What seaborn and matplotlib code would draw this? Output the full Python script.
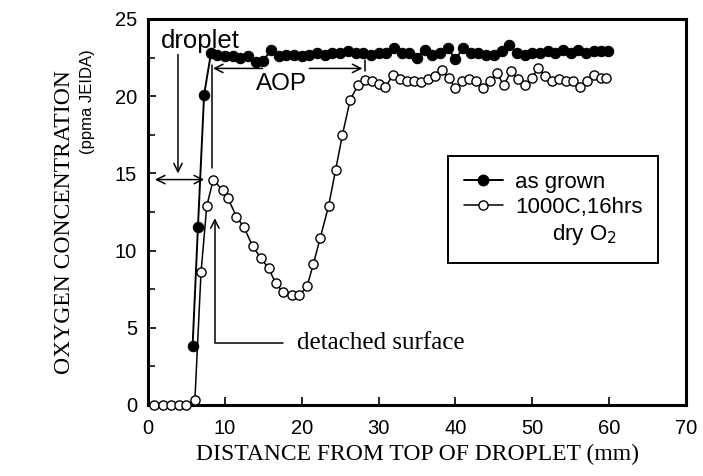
import matplotlib
matplotlib.use("Agg")
import matplotlib.pyplot as plt
from matplotlib.lines import Line2D
from matplotlib.ticker import MultipleLocator
import pandas as pd
import seaborn as sns

# ---------------- data ----------------
grown_x = [5.8, 6.5, 7.3, 8.2, 9, 10, 11, 12, 13, 14, 15, 16, 17, 18, 19, 20,
           21, 22, 23, 24, 25, 26, 27, 28, 29, 30, 31, 32, 33, 34, 35, 36, 37,
           38, 39, 40, 41, 42, 43, 44, 45, 46, 47, 48, 49, 50, 51, 52, 53, 54,
           55, 56, 57, 58, 59, 59.8]
grown_y = [3.8, 11.55, 20.1, 22.8, 22.7, 22.6, 22.6, 22.5, 22.6, 22.2, 22.3,
           23.0, 22.6, 22.7, 22.7, 22.6, 22.7, 22.8, 22.7, 22.8, 22.8, 22.9,
           22.8, 22.8, 22.7, 22.8, 22.8, 23.1, 22.8, 22.8, 22.5, 23.0, 22.7,
           22.8, 23.1, 22.4, 23.1, 22.8, 22.8, 22.7, 22.7, 22.9, 23.3, 22.8,
           22.7, 22.8, 22.8, 22.9, 22.8, 23.0, 22.8, 23.0, 22.8, 22.9, 22.9,
           22.9]

anneal_x = [0.8, 1.9, 3.0, 4.0, 4.9, 6.1, 6.9, 7.65, 8.5, 9.7, 10.4, 11.5,
            12.5, 13.6, 14.7, 15.7, 16.6, 17.5, 18.7, 19.7, 20.7, 21.5, 22.4,
            23.5, 24.4, 25.3, 26.3, 27.3, 28.2, 29.1, 30.0, 30.9, 31.9, 32.8,
            33.7, 34.6, 35.5, 36.4, 37.3, 38.2, 39.1, 40.0, 40.9, 41.8, 42.7,
            43.6, 44.5, 45.4, 46.3, 47.2, 48.1, 49.0, 49.9, 50.8, 51.7, 52.6,
            53.5, 54.4, 55.3, 56.2, 57.1, 58.0, 58.9, 59.6]
anneal_y = [0.0, 0.0, 0.0, 0.0, 0.0, 0.3, 8.6, 12.9, 14.6, 13.9, 13.4, 12.2,
            11.5, 10.3, 9.5, 8.85, 7.9, 7.35, 7.1, 7.1, 7.7, 9.1, 10.8, 12.9,
            15.2, 17.5, 19.75, 20.7, 21.05, 21.0, 20.8, 20.6, 21.4, 21.1,
            21.0, 21.0, 20.9, 21.1, 21.3, 21.7, 21.2, 20.5, 21.0, 21.1, 21.0,
            20.5, 21.0, 21.5, 20.7, 21.6, 21.1, 20.7, 21.2, 21.8, 21.3, 21.0,
            21.1, 21.0, 21.0, 20.6, 21.0, 21.4, 21.2, 21.2]

x_ticks = [0, 10, 20, 30, 40, 50, 60, 70]
y_ticks = [0, 5, 10, 15, 20, 25]
series_labels = ["as grown", "1000C,16hrs", "dry O$_2$"]
x_label = "DISTANCE FROM TOP OF DROPLET (mm)"
y_label = "OXYGEN CONCENTRATION"
y_unit = "(ppma JEIDA)"

# ---------------- style ----------------
sns.set_theme(style="ticks")
plt.rcParams["font.family"] = ["Liberation Sans", "DejaVu Sans"]
plt.rcParams["text.color"] = "black"
plt.rcParams["axes.labelcolor"] = "black"
plt.rcParams["xtick.color"] = "black"
plt.rcParams["ytick.color"] = "black"
plt.rcParams["axes.edgecolor"] = "black"
SANS = ["Liberation Sans", "DejaVu Sans"]
SERIF = ["Liberation Serif", "DejaVu Serif"]

fig = plt.figure(figsize=(7.03, 4.76), dpi=100)
ax = fig.add_axes([148 / 703, 1 - 405 / 476, 538 / 703, 386 / 476])

df_g = pd.DataFrame({"x": grown_x, "y": grown_y})
df_a = pd.DataFrame({"x": anneal_x, "y": anneal_y})

sns.lineplot(data=df_a, x="x", y="y", ax=ax, color="black", lw=1.1,
             marker="o", markersize=6.6, markerfacecolor="white",
             markeredgecolor="black", markeredgewidth=1.0, clip_on=False,
             zorder=3)
sns.lineplot(data=df_g, x="x", y="y", ax=ax, color="black", lw=1.4,
             marker="o", markersize=7.5, markerfacecolor="black",
             markeredgecolor="black", clip_on=False, zorder=4)

ax.set_xlim(0, 70)
ax.set_ylim(0, 25)
ax.set_xticks(x_ticks)
ax.set_yticks(y_ticks)
ax.yaxis.set_minor_locator(MultipleLocator(2.5))
ax.tick_params(axis="both", which="major", direction="in", length=6,
               width=1.2, labelsize=14.5, colors="black", pad=8)
ax.tick_params(axis="x", which="major", pad=10)
ax.tick_params(axis="y", which="minor", direction="in", length=5, width=1.1)
for lab in ax.get_xticklabels() + ax.get_yticklabels():
    lab.set_fontfamily(SANS)
for sp in ax.spines.values():
    sp.set_linewidth(2.2)
    sp.set_color("black")

ax.set_xlabel(x_label, fontsize=17, family=SERIF, color="black")
ax.xaxis.set_label_coords(0.5, -0.1)
ax.set_ylabel("")
ax.text(-0.156, 0.474, y_label, transform=ax.transAxes, rotation=90,
        ha="center", va="center", fontsize=17, family=SERIF)
ax.text(-0.113, 0.785, y_unit, transform=ax.transAxes, rotation=90,
        ha="center", va="center", fontsize=12, family=SANS)

# ---------------- legend ----------------
handles = [
    Line2D([], [], color="black", lw=1.4, marker="o", markersize=7.5,
           markerfacecolor="black"),
    Line2D([], [], color="black", lw=1.1, marker="o", markersize=6.6,
           markerfacecolor="white", markeredgewidth=1.0),
    Line2D([], [], color="none"),
]
labels = [series_labels[0], series_labels[1], "      " + series_labels[2]]
leg = ax.legend(handles, labels, loc="upper left",
                bbox_to_anchor=(0.558, 0.645), borderaxespad=0,
                fontsize=16, frameon=True, fancybox=False, framealpha=1,
                edgecolor="black", borderpad=0.7, handlelength=1.75,
                handletextpad=0.55, labelspacing=0.2)
leg.get_frame().set_linewidth(1.4)

# ---------------- annotations ----------------
arw = dict(arrowstyle="->", color="black", lw=1.1, shrinkA=0, shrinkB=0,
           mutation_scale=15)
dbl = dict(arrowstyle="<->", color="black", lw=1.1, shrinkA=0, shrinkB=0,
           mutation_scale=15)

ax.text(1.7, 23.6, "droplet", fontsize=18.5, family=SANS, ha="left",
        va="center")
ax.annotate("", xy=(3.9, 15.0), xytext=(3.9, 22.7), arrowprops=arw)
ax.annotate("", xy=(0.9, 14.6), xytext=(7.3, 14.6), arrowprops=dbl)
ax.plot([8.3, 8.3], [15.35, 22.0], color="black", lw=1.1)

ax.annotate("", xy=(8.45, 21.8), xytext=(14.9, 21.8), arrowprops=arw)
ax.annotate("", xy=(27.9, 21.8), xytext=(21.0, 21.8), arrowprops=arw)
ax.plot([28.2, 28.2], [21.6, 22.35], color="black", lw=1.1)
ax.text(17.4, 20.8, "AOP", fontsize=17.5, family=SANS, ha="center",
        va="center")

ax.annotate("", xy=(8.7, 12.1), xytext=(17.5, 4.0),
            arrowprops=dict(arrowstyle="->", color="black", lw=1.1,
                            shrinkA=0, shrinkB=0, mutation_scale=15,
                            connectionstyle="angle,angleA=180,angleB=90,rad=0"))
ax.text(19.35, 4.0, "detached surface", fontsize=18, family=SERIF,
        ha="left", va="center")

fig.savefig("out.png", dpi=100)
